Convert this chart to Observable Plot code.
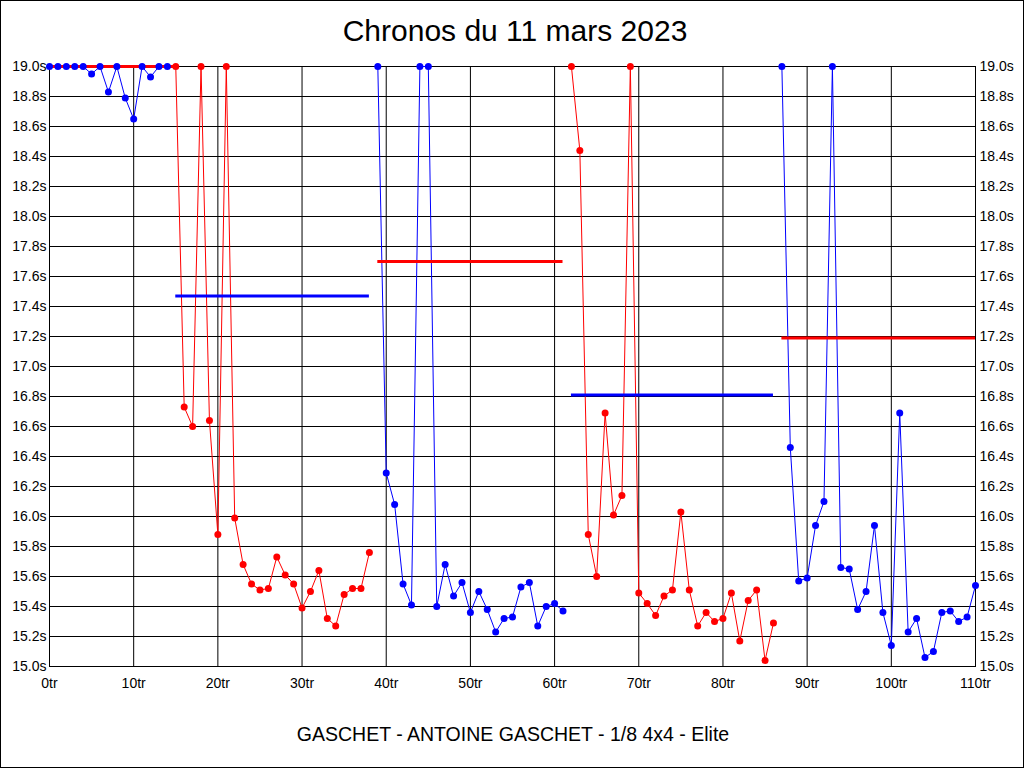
<!DOCTYPE html>
<html>
<head>
<meta charset="utf-8">
<script src="https://cdn.jsdelivr.net/npm/d3@7"></script>
<script src="https://cdn.jsdelivr.net/npm/@observablehq/plot@0.6"></script>
<style>
  body { margin: 0; background: #fff; }
  #wrap { position: relative; width: 1024px; height: 768px; overflow: hidden; background: #fff;
          font-family: "Liberation Sans", Arial, sans-serif; color: #000; }
  #chart { position: absolute; left: 0; top: 0; }
  #title { position: absolute; left: 3px; top: 16px; width: 1024px; text-align: center;
           font-size: 30px; line-height: 30px; white-space: nowrap; }
  #caption { position: absolute; left: 1px; top: 725px; width: 1024px; text-align: center;
             font-size: 19.5px; line-height: 19.5px; white-space: nowrap; }
  #border { position: absolute; left: 0; top: 0; width: 1024px; height: 768px; box-sizing: border-box;
            border: 1px solid #000; pointer-events: none; }
</style>
</head>
<body>
<div id="wrap">
  <div id="chart"></div>
  <div id="title">Chronos du 11 mars 2023</div>
  <div id="caption">GASCHET - ANTOINE GASCHET - 1/8 4x4 - Elite</div>
  <div id="border"></div>
</div>
<script>
// Lap times (s), laps 0..110 (values capped at 19.0)
const chronos = [
  19.0, 19.0, 19.0, 19.0, 19.0, 18.95, 19.0, 18.83, 19.0, 18.79,   // 0-9
  18.65, 19.0, 18.93, 19.0, 19.0, 19.0, 16.73, 16.60, 19.0, 16.64, // 10-19
  15.88, 19.0, 15.99, 15.68, 15.55, 15.51, 15.52, 15.73, 15.61, 15.55, // 20-29
  15.39, 15.50, 15.64, 15.32, 15.27, 15.48, 15.52, 15.52, 15.76, 19.0, // 30-39
  16.29, 16.08, 15.55, 15.41, 19.0, 19.0, 15.40, 15.68, 15.47, 15.56, // 40-49
  15.36, 15.50, 15.38, 15.23, 15.32, 15.33, 15.53, 15.56, 15.27, 15.40, // 50-59
  15.42, 15.37, 19.0, 18.44, 15.88, 15.60, 16.69, 16.01, 16.14, 19.0, // 60-69
  15.49, 15.42, 15.34, 15.47, 15.51, 16.03, 15.51, 15.27, 15.36, 15.30, // 70-79
  15.32, 15.49, 15.17, 15.44, 15.51, 15.04, 15.29, 19.0, 16.46, 15.57, // 80-89
  15.59, 15.94, 16.10, 19.0, 15.66, 15.65, 15.38, 15.50, 15.94, 15.36, // 90-99
  15.14, 16.69, 15.23, 15.32, 15.06, 15.10, 15.36, 15.37, 15.30, 15.33, // 100-109
  15.54                                                                // 110
];

// Stints (relay)
const stintStart = [0, 15, 39, 62, 87];
const stintEnd   = [14, 38, 61, 86, 110];
const stintColor = ["blue", "red", "blue", "red", "blue"];

// Average lines
const avgValue = [19.0, 17.47, 17.70, 16.81, 17.19];
const avgStart = [0, 15, 39, 62, 87];
const avgEnd   = [15, 38, 61, 86, 110];
const avgColor = ["red", "blue", "red", "blue", "red"];

// Axis ticks
const xTicks = [0, 10, 20, 30, 40, 50, 60, 70, 80, 90, 100, 110];
const yTicks = [15.0, 15.2, 15.4, 15.6, 15.8, 16.0, 16.2, 16.4, 16.6, 16.8, 17.0,
                17.2, 17.4, 17.6, 17.8, 18.0, 18.2, 18.4, 18.6, 18.8, 19.0];

const laps = chronos.map((t, lap) => {
  const s = stintStart.findIndex((a, i) => lap >= a && lap <= stintEnd[i]);
  return {lap, t, stint: s, color: stintColor[s]};
});
const avgs = avgValue.map((v, i) => ({v, x1: avgStart[i], x2: avgEnd[i], color: avgColor[i]}));

const chart = Plot.plot({
  width: 1024,
  height: 768,
  marginLeft: 49,
  marginRight: 49,
  marginTop: 66,
  marginBottom: 102,
  style: {fontFamily: "'Liberation Sans', Arial, sans-serif", fontSize: "14px", color: "black", background: "transparent"},
  x: {domain: [0, 110]},
  y: {domain: [15, 19]},
  color: {type: "identity"},
  marks: [
    Plot.gridX(xTicks, {stroke: "black", strokeOpacity: 1}),
    Plot.gridY(yTicks, {stroke: "black", strokeOpacity: 1}),
    Plot.frame({stroke: "black"}),
    Plot.axisX(xTicks, {tickSize: 0, tickPadding: 12, tickFormat: d => d + "tr", fontSize: 14, label: null}),
    Plot.axisY(yTicks, {anchor: "left", tickSize: 0, tickPadding: 3, tickFormat: d => d.toFixed(1) + "s", fontSize: 14, label: null}),
    Plot.axisY(yTicks, {anchor: "right", tickSize: 0, tickPadding: 4, tickFormat: d => d.toFixed(1) + "s", fontSize: 14, label: null}),
    Plot.line(laps, {x: "lap", y: "t", z: "stint", stroke: "color", strokeWidth: 1}),
    Plot.ruleY(avgs, {y: "v", x1: "x1", x2: "x2", stroke: "color", strokeWidth: 3}),
    Plot.dot(laps, {x: "lap", y: "t", fill: "color", r: 3.5})
  ]
});
document.getElementById("chart").appendChild(chart);
</script>
</body>
</html>
